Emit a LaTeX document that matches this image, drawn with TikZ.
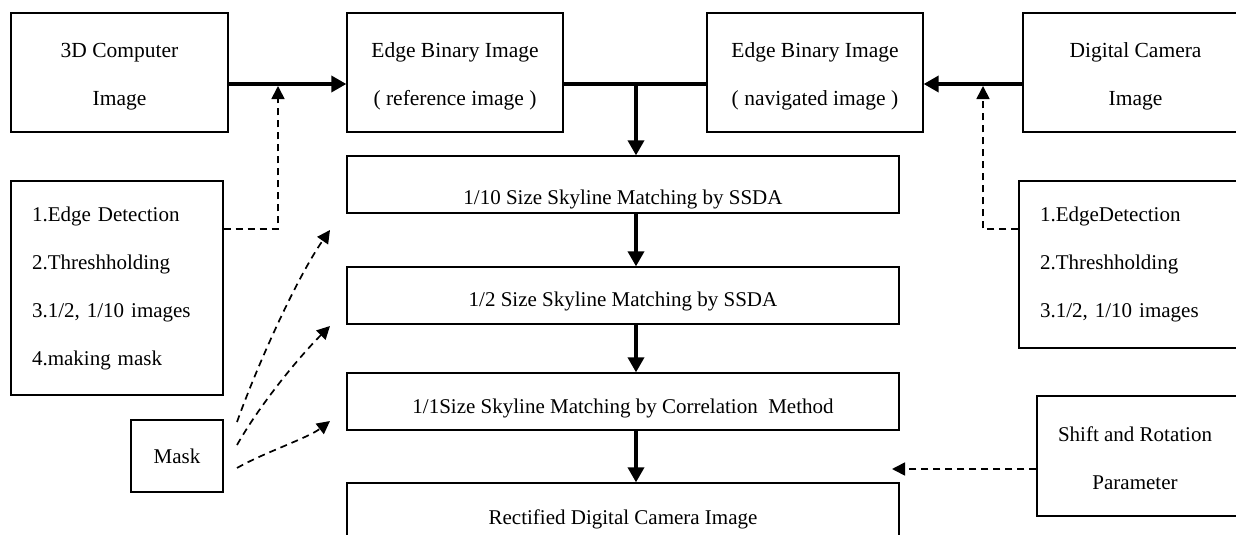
\documentclass[tikz,border=0pt]{standalone}
\usepackage{fontspec}
\setmainfont{Liberation Serif}
\usetikzlibrary{arrows.meta,calc}
\newcommand\firststrut{\rule{0pt}{22.5pt}}
\begin{document}
\begin{tikzpicture}[x=1pt,y=-1pt,
  box/.style={draw,line width=1.3pt,inner sep=0pt,font=\fontsize{21}{48}\selectfont,align=center},
  topbox/.style={box,minimum height=119pt,font=\fontsize{21.5}{48}\selectfont},
  lbox/.style={draw,line width=1.3pt,inner ysep=0pt,inner xsep=21pt,font=\fontsize{21}{48}\selectfont,align=left},
  mbox/.style={draw,line width=1.3pt,inner sep=0pt,minimum width=552pt,minimum height=57pt,font=\fontsize{21}{48}\selectfont,text depth=3pt},
  bold/.style={line width=3.5pt},
  boldarrow/.style={line width=3.5pt,-{Triangle[length=15pt,width=16pt]}},
  dasharrow/.style={line width=1.7pt,dash pattern=on 7pt off 5pt,-{Triangle[length=13pt,width=13pt]}},
]
\useasboundingbox (0,0) rectangle (1236,535);
\clip (0,0) rectangle (1236,535);

% boxes
\node[topbox,minimum width=217pt] (comp) at (119.5,72.5) {\firststrut 3D Computer\\Image};
\node[topbox,minimum width=216pt] (ref) at (455,72.5) {\firststrut Edge Binary Image\\( reference image )};
\node[topbox,minimum width=216pt] (nav) at (815,72.5) {\firststrut Edge Binary Image\\( navigated image )};
\node[topbox,minimum width=225pt] (cam) at (1135.5,72.5) {\firststrut Digital Camera\\Image};
\node[lbox,text width=170pt,minimum height=214pt] (lproc) at (117,288) {1.Edge Detection\\2.Threshholding\\3.1/2, 1/10 images\\4.making mask};
\node[lbox,text width=189pt,minimum height=167pt] (rproc) at (1134.5,264.5) {1.EdgeDetection\\2.Threshholding\\3.1/2, 1/10 images};
\node[mbox,text height=42pt] (s10) at (623,184.5) {1/10 Size Skyline Matching by SSDA};
\node[mbox,text height=25pt] (s2) at (623,295.5) {1/2 Size Skyline Matching by SSDA};
\node[mbox,text height=27pt] (s1) at (623,401.5) {1/1Size Skyline Matching by Correlation\enspace Method};
\node[mbox,text height=28pt] (rect) at (623,511.5) {Rectified Digital Camera Image};
\node[box,minimum width=92pt,minimum height=72pt] (mask) at (177,456) {Mask};
\node[draw,line width=1.3pt,minimum width=213pt,minimum height=120pt,inner sep=0pt] (shift) at (1143.5,456) {};
\node[box,draw=none] (shifttxt) at (1135,458) {Shift and Rotation\\Parameter};

% helper coordinates
\coordinate (h) at (0,84);
\coordinate (jl) at (278,84);
\coordinate (jm) at (636,84);
\coordinate (jr) at (983,84);
\coordinate (dl) at (0,229);
\coordinate (sr) at (892,469);
\coordinate (m1s) at (237,422);
\coordinate (m1e) at (330,230);
\coordinate (m2s) at (237,445);
\coordinate (m2e) at (330,326);
\coordinate (m3s) at (237,468);
\coordinate (m3e) at (330,421);

% bold connectors
\draw[boldarrow] (comp.east|-h) -- (ref.west|-h);
\draw[boldarrow] (cam.west|-h) -- (nav.east|-h);
\draw[bold] (ref.east|-h) -- (nav.west|-h);
\draw[boldarrow] (jm) -- (jm|-s10.north);
\draw[boldarrow] (jm|-s10.south) -- (jm|-s2.north);
\draw[boldarrow] (jm|-s2.south) -- (jm|-s1.north);
\draw[boldarrow] (jm|-s1.south) -- (jm|-rect.north);

% dashed connectors
\draw[dasharrow] (lproc.east|-dl) -| ($(jl)+(0,2)$);
\draw[dasharrow] (rproc.west|-dl) -| ($(jr)+(0,2)$);
\draw[dasharrow] (shift.west|-sr) -- (sr);
\draw[dasharrow] (m1s) .. controls ($(m1s)+(20,-56)$) and ($(m1e)+(-34,49)$) .. (m1e);
\draw[dasharrow] (m2s) .. controls ($(m2s)+(22,-39)$) and ($(m2e)+(-32,32)$) .. (m2e);
\draw[dasharrow] (m3s) .. controls ($(m3s)+(26,-15)$) and ($(m3e)+(-22,17)$) .. (m3e);
\end{tikzpicture}
\end{document}
